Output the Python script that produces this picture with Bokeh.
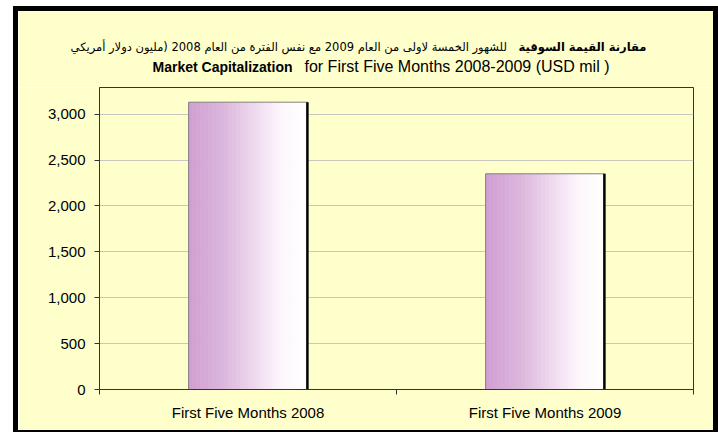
import numpy as np
from bokeh.plotting import figure
from bokeh.models import FixedTicker, NumeralTickFormatter, Range1d
from bokeh.core.properties import value
from bokeh.embed import file_html
from bokeh.resources import INLINE

# ---- data ----
categories = ["First Five Months 2008", "First Five Months 2009"]
values = [3130, 2350]
y_ticks = [0, 500, 1000, 1500, 2000, 2500, 3000]
title_ar_bold = "مقارنة القيمة السوقية"
title_ar_rest = "للشهور الخمسة لاولى من العام 2009 مع نفس الفترة من العام 2008  (مليون دولار أمريكي"
title_en_bold = "Market Capitalization"
title_en_rest = "for First Five   Months 2008-2009 (USD mil  )"

FONT = "Liberation Sans"
AR_FONT = "DejaVu Sans"
BG = "#FFFFCC"
W = 695          # content width of each block
BX = 10          # left + right border widths (canvas spans them too)
TITLE_H = 76
PLOT_H = 343

# ---- title strip (its own root so the frame spans the full width) ----
t = figure(width=W, height=TITLE_H,
           x_range=Range1d(0, W + BX), y_range=Range1d(TITLE_H + 5, 0),
           output_backend="svg", toolbar_location=None,
           x_axis_location=None, y_axis_location=None,
           min_border=0, min_border_left=0, min_border_right=0,
           min_border_top=0, min_border_bottom=0,
           background_fill_color=BG, border_fill_color=BG, outline_line_color=None,
           styles={"box-sizing": "content-box", "border-style": "solid",
                   "border-color": "black", "border-width": "5px 5px 0 5px",
                   "margin": "6px 0 0 13px"})
t.xgrid.visible = False
t.ygrid.visible = False
# Arabic line: bold run starts at the split point, the rest ends just before it
t.text(x=[500], y=[35], text=[title_ar_bold], text_align="left", text_baseline="middle",
       text_font=value(AR_FONT), text_font_style="bold", text_font_size="11.5px", text_color="black")
t.text(x=[492], y=[35], text=[title_ar_rest], text_align="right", text_baseline="middle",
       text_font=value(AR_FONT), text_font_size="11.5px", text_color="black")
t.text(x=[134], y=[55], text=[title_en_bold], text_align="left", text_baseline="middle",
       text_font=value(FONT), text_font_style="bold", text_font_size="14px", text_color="black")
t.text(x=[286], y=[55], text=[title_en_rest], text_align="left", text_baseline="middle",
       text_font=value(FONT), text_font_size="16px", text_color="black")

# ---- chart ----
centers = np.arange(len(categories)) + 0.5
bar_w = 0.4

p = figure(width=W, height=PLOT_H,
           x_range=Range1d(0, len(categories)), y_range=Range1d(0, 3290),
           output_backend="svg", toolbar_location=None,
           min_border_left=81, min_border_right=30, min_border_top=0, min_border_bottom=43,
           background_fill_color=BG, border_fill_color=BG,
           outline_line_color="#333333",
           styles={"box-sizing": "content-box", "border-style": "solid",
                   "border-color": "black", "border-width": "0 5px 2px 5px",
                   "margin": "0 0 0 13px"})

# gradient bars built as thin strips
N = 30
stops_pos = [0.0, 0.3, 0.55, 0.78, 1.0]
stops_r = [208, 220, 238, 253, 255]
stops_g = [158, 183, 216, 246, 255]
stops_b = [210, 221, 238, 253, 255]
for i in range(N):
    f = (i + 0.5) / N
    r = int(round(np.interp(f, stops_pos, stops_r)))
    g = int(round(np.interp(f, stops_pos, stops_g)))
    b = int(round(np.interp(f, stops_pos, stops_b)))
    xs = centers - bar_w / 2 + (i + 0.5) * bar_w / N
    p.vbar(x=xs, top=values, width=bar_w / N * 1.15,
           fill_color=(r, g, b), line_color=None)

p.vbar(x=centers, top=values, width=bar_w, fill_color=None,
       line_color="#808080", line_width=1)
p.segment(x0=centers + bar_w / 2, y0=[0] * len(values),
          x1=centers + bar_w / 2, y1=values, line_color="black", line_width=2.5)

# axes
p.xaxis.ticker = FixedTicker(ticks=list(centers), minor_ticks=list(range(len(categories) + 1)))
p.xaxis.major_label_overrides = {float(c): lab for c, lab in zip(centers, categories)}
p.xaxis.major_tick_out = 0
p.xaxis.major_tick_in = 0
p.xaxis.minor_tick_out = 5
p.xaxis.minor_tick_in = 0
p.xaxis.minor_tick_line_color = "#333333"
p.xaxis.axis_line_color = "#333333"
p.xaxis.major_label_standoff = 9

p.yaxis.ticker = FixedTicker(ticks=y_ticks)
p.yaxis.formatter = NumeralTickFormatter(format="0,0")
p.yaxis.major_tick_out = 5
p.yaxis.major_tick_in = 0
p.yaxis.major_tick_line_color = "#333333"
p.yaxis.axis_line_color = "#333333"
p.yaxis.minor_tick_line_color = None
p.yaxis.major_label_standoff = 9

for ax in (p.xaxis[0], p.yaxis[0]):
    ax.major_label_text_font = FONT
    ax.major_label_text_font_size = "15px"
    ax.major_label_text_color = "black"

p.xgrid.visible = False
p.ygrid.grid_line_color = "#C8C8C0"

open("out.html", "w").write(file_html([t, p], INLINE))
